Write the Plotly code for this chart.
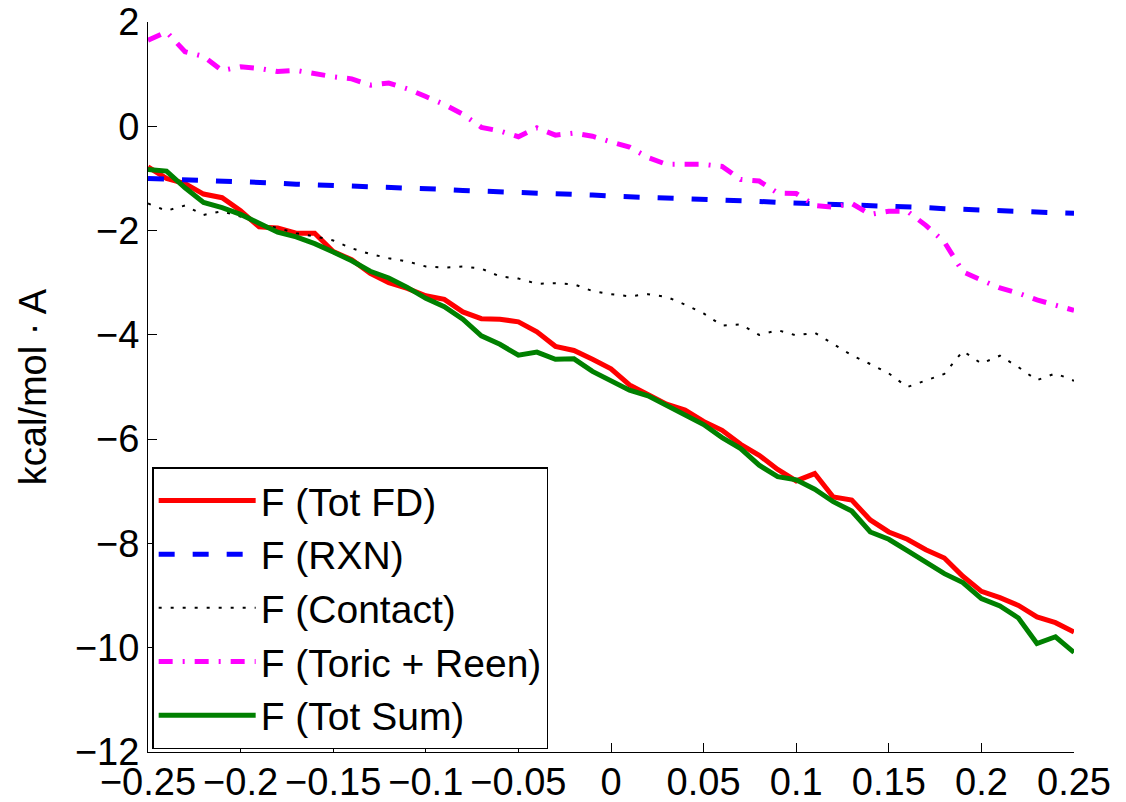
import plotly.graph_objects as go

x_vals = [-0.25, -0.24, -0.23, -0.22, -0.21, -0.20, -0.19, -0.18, -0.17, -0.16,
          -0.15, -0.14, -0.13, -0.12, -0.11, -0.10, -0.09, -0.08, -0.07, -0.06,
          -0.05, -0.04, -0.03, -0.02, -0.01, 0.00, 0.01, 0.02, 0.03, 0.04,
          0.05, 0.06, 0.07, 0.08, 0.09, 0.10, 0.11, 0.12, 0.13, 0.14,
          0.15, 0.16, 0.17, 0.18, 0.19, 0.20, 0.21, 0.22, 0.23, 0.24, 0.25]

tot_fd = [-0.78, -1.00, -1.10, -1.30, -1.37, -1.62, -1.93, -1.95, -2.05, -2.05,
          -2.40, -2.56, -2.82, -3.00, -3.11, -3.25, -3.32, -3.56, -3.69, -3.70,
          -3.75, -3.94, -4.22, -4.30, -4.47, -4.65, -4.96, -5.15, -5.33, -5.44,
          -5.66, -5.83, -6.10, -6.31, -6.58, -6.80, -6.66, -7.11, -7.17, -7.55,
          -7.78, -7.92, -8.12, -8.28, -8.63, -8.92, -9.04, -9.19, -9.41, -9.52, -9.70]

rxn = [-1.00, -1.01, -1.03, -1.04, -1.05, -1.07, -1.08, -1.09, -1.11, -1.12,
       -1.13, -1.15, -1.16, -1.17, -1.19, -1.20, -1.21, -1.23, -1.24, -1.25,
       -1.27, -1.28, -1.29, -1.31, -1.32, -1.34, -1.35, -1.36, -1.38, -1.39,
       -1.40, -1.42, -1.43, -1.44, -1.46, -1.47, -1.48, -1.50, -1.51, -1.52,
       -1.54, -1.55, -1.56, -1.58, -1.59, -1.60, -1.62, -1.63, -1.64, -1.66, -1.67]

contact = [-1.48, -1.62, -1.52, -1.70, -1.63, -1.73, -1.87, -1.95, -2.05, -2.11,
           -2.19, -2.34, -2.45, -2.53, -2.59, -2.69, -2.71, -2.69, -2.73, -2.88,
           -2.92, -3.02, -3.01, -3.03, -3.16, -3.22, -3.26, -3.22, -3.27, -3.42,
           -3.59, -3.82, -3.80, -4.00, -3.91, -4.01, -3.96, -4.18, -4.39, -4.56,
           -4.74, -5.00, -4.88, -4.75, -4.31, -4.55, -4.40, -4.62, -4.87, -4.74, -4.88]

toric_reen = [1.65, 1.81, 1.43, 1.34, 1.07, 1.14, 1.11, 1.05, 1.07, 1.00,
              0.95, 0.91, 0.79, 0.83, 0.72, 0.57, 0.42, 0.23, -0.02, -0.09,
              -0.20, -0.03, -0.17, -0.13, -0.19, -0.30, -0.40, -0.60, -0.73, -0.73,
              -0.73, -0.77, -1.02, -1.05, -1.28, -1.29, -1.52, -1.55, -1.48, -1.69,
              -1.63, -1.63, -1.90, -2.22, -2.79, -2.95, -3.10, -3.20, -3.33, -3.43, -3.53]

tot_sum = [-0.83, -0.86, -1.18, -1.46, -1.56, -1.69, -1.86, -2.03, -2.12, -2.25,
           -2.41, -2.58, -2.78, -2.91, -3.09, -3.30, -3.46, -3.70, -4.02, -4.18,
           -4.39, -4.33, -4.47, -4.46, -4.70, -4.88, -5.06, -5.17, -5.35, -5.53,
           -5.72, -5.97, -6.18, -6.50, -6.72, -6.78, -6.96, -7.20, -7.38, -7.78,
           -7.92, -8.14, -8.36, -8.58, -8.75, -9.06, -9.20, -9.43, -9.92, -9.79, -10.09]

x_ticks = [-0.25, -0.2, -0.15, -0.1, -0.05, 0, 0.05, 0.1, 0.15, 0.2, 0.25]
x_tick_text = ["\u22120.25", "\u22120.2", "\u22120.15", "\u22120.1", "\u22120.05",
               "0", "0.05", "0.1", "0.15", "0.2", "0.25"]
y_ticks = [-12, -10, -8, -6, -4, -2, 0, 2]
y_tick_text = ["\u221212", "\u221210", "\u22128", "\u22126", "\u22124", "\u22122", "0", "2"]
y_title = "kcal/mol \u00b7 A"

FONT = "Liberation Sans, Arial, Helvetica, sans-serif"

fig = go.Figure()
fig.add_trace(go.Scatter(x=x_vals, y=tot_fd, mode="lines", name="F (Tot FD)",
                         line=dict(color="#ff0000", width=5), legendgroup="a"))
fig.add_trace(go.Scatter(x=x_vals, y=rxn, mode="lines", name="F (RXN)",
                         line=dict(color="#0000ff", width=5, dash="16px,18px"), legendgroup="b"))
fig.add_trace(go.Scatter(x=x_vals, y=contact, mode="lines", name="F (Contact)",
                         line=dict(color="#000000", width=2, dash="3px,9px"), legendgroup="c"))
fig.add_trace(go.Scatter(x=x_vals, y=toric_reen, mode="lines", name="F (Toric + Reen)",
                         line=dict(color="#ff00ff", width=5, dash="14px,10px,2px,10px"), legendgroup="d"))
fig.add_trace(go.Scatter(x=x_vals, y=tot_sum, mode="lines", name="F (Tot Sum)",
                         line=dict(color="#008000", width=5), legendgroup="e"))

fig.update_layout(
    width=1126, height=802,
    margin=dict(l=148, r=52, t=22, b=50),
    paper_bgcolor="white", plot_bgcolor="white",
    font=dict(family=FONT, size=38, color="black"),
    showlegend=True,
    legend=dict(
        x=0.0045, y=0.004, xanchor="left", yanchor="bottom",
        bgcolor="white", bordercolor="black", borderwidth=1.5,
        font=dict(family=FONT, size=39, color="black"),
        itemwidth=97, traceorder="grouped", tracegroupgap=0,
    ),
    xaxis=dict(
        range=[-0.25, 0.25], tickvals=x_ticks, ticktext=x_tick_text,
        ticks="inside", ticklen=9, tickwidth=1, tickcolor="black",
        showline=True, linecolor="black", linewidth=1,
        showgrid=False, zeroline=False, mirror=False, automargin=False,
        tickfont=dict(family=FONT, size=38, color="black"),
        ticklabelstandoff=-4,
    ),
    yaxis=dict(
        range=[-12, 2], tickvals=y_ticks, ticktext=y_tick_text,
        ticks="inside", ticklen=9, tickwidth=1, tickcolor="black",
        showline=True, linecolor="black", linewidth=1,
        showgrid=False, zeroline=False, mirror=False, automargin=False,
        tickfont=dict(family=FONT, size=38, color="black"),
    ),
    annotations=[dict(
        text=y_title, xref="paper", yref="paper", x=-0.124, y=0.5,
        xanchor="center", yanchor="middle", textangle=-90, showarrow=False,
        font=dict(family=FONT, size=38, color="black"),
    )],
)

fig.write_html("out.html")
